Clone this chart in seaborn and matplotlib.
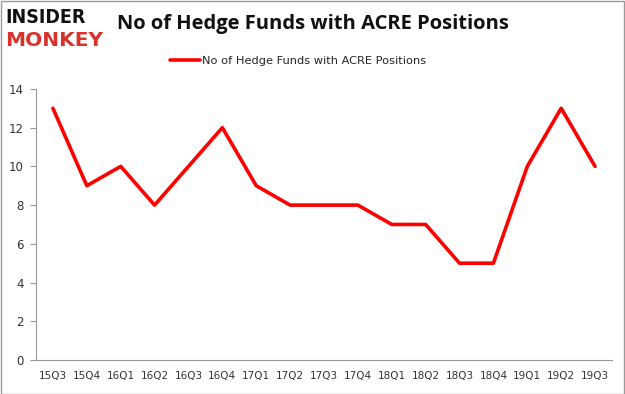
import matplotlib
matplotlib.use("Agg")
import matplotlib.pyplot as plt
import seaborn as sns
import pandas as pd
import numpy as np

quarters = ["15Q3", "15Q4", "16Q1", "16Q2", "16Q3", "16Q4", "17Q1", "17Q2", "17Q3",
            "17Q4", "18Q1", "18Q2", "18Q3", "18Q4", "19Q1", "19Q2", "19Q3"]
funds = [13, 9, 10, 8, 10, 12, 9, 8, 8, 8, 7, 7, 5, 5, 10, 13, 10]
series_name = "No of Hedge Funds with ACRE Positions"
title = "No of Hedge Funds with ACRE Positions"

sns.set_style("white")
plt.rcParams['font.family'] = ['DejaVu Sans']

df = pd.DataFrame({"quarter": quarters, "funds": funds, "x": np.arange(len(quarters))})

fig = plt.figure(figsize=(6.25, 3.94), dpi=100)
ax = fig.add_axes([0.0576, 0.0863, 0.9216, 0.688])
sns.lineplot(data=df, x="x", y="funds", ax=ax, color="#ff0000", linewidth=2.6,
             label=series_name, legend=False)

ax.set_xlim(-0.5, len(quarters) - 0.5)
ax.set_ylim(0, 14)
ax.set_yticks(range(0, 15, 2))
ax.set_xticks(np.arange(len(quarters)))
ax.set_xticklabels(quarters, fontsize=7.5, color="#333333")
ax.set_xticks(np.arange(-0.5, len(quarters), 1), minor=True)
ax.tick_params(axis="x", which="major", length=0, pad=8)
ax.tick_params(axis="x", which="minor", length=4, color="#999999", direction="out")
ax.tick_params(axis="y", labelsize=8.5, length=4, color="#999999", labelcolor="#333333",
               direction="out", left=True, pad=5)
ax.set_xlabel("")
ax.set_ylabel("")
for s in ["top", "right"]:
    ax.spines[s].set_visible(False)
for s in ["left", "bottom"]:
    ax.spines[s].set_color("#999999")
    ax.spines[s].set_linewidth(0.8)
ax.grid(False)

leg = fig.legend(handles=ax.get_lines()[:1], labels=[series_name], loc="center",
                 bbox_to_anchor=(0.477, 0.845), frameon=False, fontsize=8.2,
                 handlelength=2.6, handletextpad=0.2)

fig.text(0.187, 0.938, title, fontsize=14.5, fontweight="bold", ha="left", va="center",
         color="#111111", family=["Open Sans", "DejaVu Sans"])
fig.text(0.008, 0.955, "INSIDER", fontsize=14, fontweight="heavy", ha="left", va="center",
         color="#111111", family=["DejaVu Sans"], stretch="condensed")
fig.text(0.008, 0.898, "MONKEY", fontsize=14.5, fontweight="heavy", ha="left", va="center",
         color="#d9312b", family=["DejaVu Sans"])

border = plt.Rectangle((0.001, 0.001), 0.997, 0.997, transform=fig.transFigure,
                       fill=False, edgecolor="#999999", linewidth=1)
fig.patches.append(border)

fig.savefig("out.png", dpi=100)
